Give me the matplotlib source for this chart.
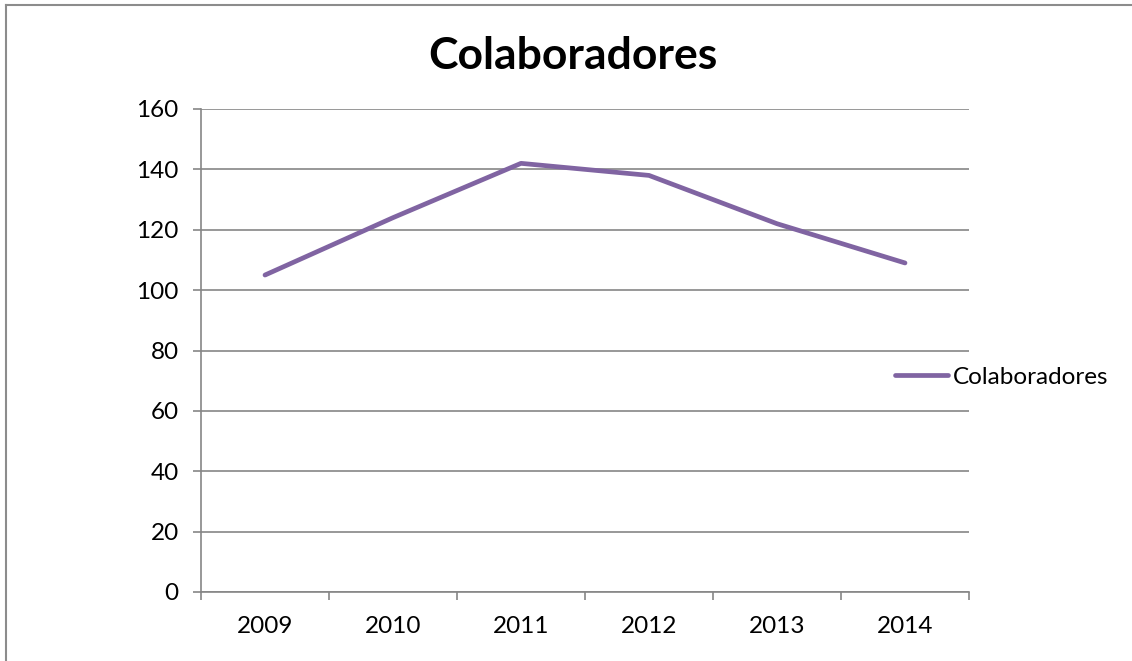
import matplotlib
matplotlib.use("Agg")
import matplotlib.pyplot as plt
from matplotlib.lines import Line2D

years = ["2009", "2010", "2011", "2012", "2013", "2014"]
colaboradores = [105, 124, 142, 138, 122, 109]
yticks = [0, 20, 40, 60, 80, 100, 120, 140, 160]
title = "Colaboradores"
series_name = "Colaboradores"

plt.rcParams['font.family'] = ['Lato', 'DejaVu Sans']

W, H = 1132, 661
fig = plt.figure(figsize=(W / 100, H / 100), dpi=100)
ax = fig.add_axes([201 / W, 1 - 592 / H, (969 - 201) / W, (592 - 109) / H])

grid_c = "#868686"
line_c = "#8064A2"

x = list(range(len(years)))
ax.plot(x, colaboradores, color=line_c, lw=3.4, solid_capstyle='round',
        solid_joinstyle='round', label=series_name, zorder=3)

ax.set_xlim(-0.5, len(years) - 0.5)
ax.set_ylim(0, 160)
ax.set_yticks(yticks)
ax.set_yticklabels([str(v) for v in yticks])
ax.set_xticks(x)
ax.set_xticklabels(years)
ax.set_xticks([i - 0.5 for i in range(len(years) + 1)], minor=True)
ax.tick_params(axis='x', which='major', length=0, pad=17, labelsize=17.5)
ax.tick_params(axis='x', which='minor', length=6, width=1.2, color=grid_c, direction='out')
ax.tick_params(axis='y', length=6, width=1.2, color=grid_c, pad=10, labelsize=17.5)

ax.grid(axis='y', color=grid_c, lw=1.2)
ax.set_axisbelow(True)
for s in ['top', 'right']:
    ax.spines[s].set_visible(False)
for s in ['left', 'bottom']:
    ax.spines[s].set_color(grid_c)
    ax.spines[s].set_linewidth(1.2)

fig.text(573 / W, 1 - 56 / H, title, ha='center', va='center', fontsize=32, fontweight='bold')

leg = fig.legend(loc='center left', bbox_to_anchor=(895 / W, 1 - 377 / H), frameon=False,
                 fontsize=17.5, handlelength=2.2, handletextpad=0.2, borderpad=0, borderaxespad=0)

# outer chart frame (left and top edges visible)
fig.add_artist(Line2D([6 / W, 6 / W], [0, 1 - 5 / H], color="#8c8c8c", lw=1.5, transform=fig.transFigure))
fig.add_artist(Line2D([6 / W, 1.01], [1 - 5 / H, 1 - 5 / H], color="#8c8c8c", lw=1.5, transform=fig.transFigure))

fig.savefig("out.png", dpi=100, facecolor='white')
